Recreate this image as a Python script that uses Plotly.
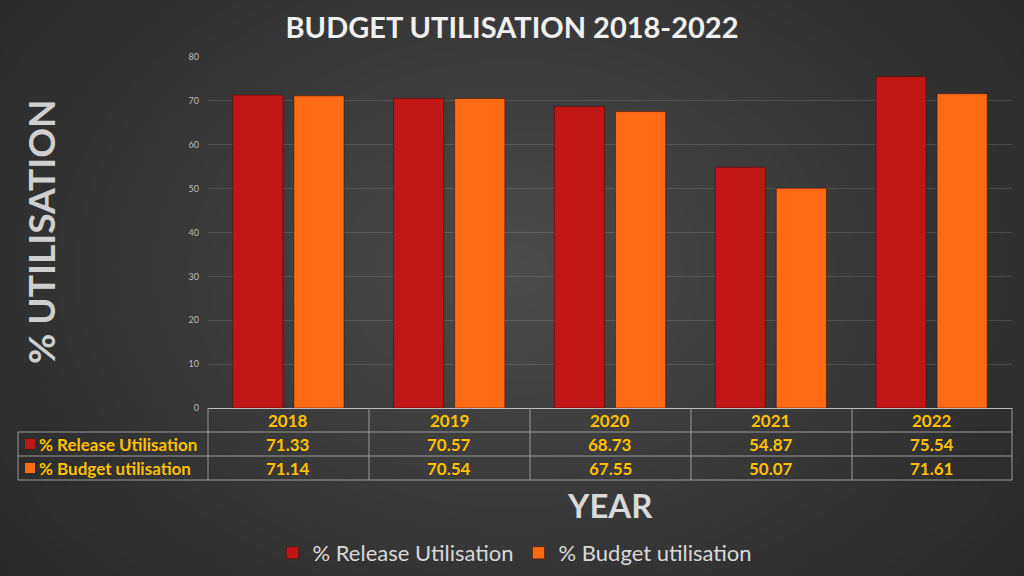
import plotly.graph_objects as go

# data
years = ["2018", "2019", "2020", "2021", "2022"]
release_util = [71.33, 70.57, 68.73, 54.87, 75.54]
budget_util = [71.14, 70.54, 67.55, 50.07, 71.61]
series_names = ["% Release Utilisation", "% Budget utilisation"]
series_colors = ["#c01616", "#ff6a14"]

FONT = "Lato"
GOLD = "#ffc000"
LINE = "#9a9a9a"

# plot area in px: x 208..1012, y 57..408 (figure 1024x576)
L, R, T, B = 208, 12, 57, 168
PW, PH = 1024 - L - R, 576 - T - B


def px_x(px):
    return (px - L) / PW


def px_y(py):
    return (576 - B - py) / PH


fig = go.Figure()
for name, vals, col in zip(series_names, [release_util, budget_util], series_colors):
    fig.add_trace(go.Bar(
        x=years, y=vals, name=name,
        marker=dict(color=col, line=dict(color="rgba(60,0,0,0.45)", width=1)),
    ))

shapes = []

# background radial-ish glow
steps = 40
for i in range(steps):
    f = 1 - i / steps
    cx, cy = 512, 270
    rx, ry = 760 * f, 560 * f
    shapes.append(dict(
        type="circle", xref="paper", yref="paper", layer="below",
        x0=px_x(cx - rx), x1=px_x(cx + rx), y0=px_y(cy + ry), y1=px_y(cy - ry),
        fillcolor="rgba(255,255,255,0.0095)", line=dict(width=0),
    ))

# data table lines
row_y = [408, 432, 456, 480]
col_x = [208, 369, 530, 691, 852, 1012]
for py in row_y[1:]:
    shapes.append(dict(type="line", xref="paper", yref="paper",
                       x0=px_x(18), x1=px_x(1012), y0=px_y(py), y1=px_y(py),
                       line=dict(color=LINE, width=1)))
shapes.append(dict(type="line", xref="paper", yref="paper",
                   x0=px_x(18), x1=px_x(18), y0=px_y(432), y1=px_y(480),
                   line=dict(color=LINE, width=1)))
for cx in col_x:
    shapes.append(dict(type="line", xref="paper", yref="paper",
                       x0=px_x(cx), x1=px_x(cx), y0=px_y(408), y1=px_y(480),
                       line=dict(color=LINE, width=1)))

# legend keys in table
for i, col in enumerate(series_colors):
    yc = 444 + 24 * i
    shapes.append(dict(type="rect", xref="paper", yref="paper",
                       x0=px_x(25), x1=px_x(35), y0=px_y(yc + 5), y1=px_y(yc - 5),
                       fillcolor=col, line=dict(width=0)))

annotations = []
cell_font = dict(family=FONT, size=17, color=GOLD, weight="bold")


def cell(x, xref, py, text, xanchor="center"):
    return dict(x=x, xref=xref, y=px_y(py), yref="paper", text=text,
                xanchor=xanchor, yanchor="middle", showarrow=False, font=cell_font)


# category index keeps annotations on the category axis
for i, (yr, rv, bv) in enumerate(zip(years, release_util, budget_util)):
    annotations.append(cell(i, "x", 420, yr))
    annotations.append(cell(i, "x", 444, f"{rv:.2f}"))
    annotations.append(cell(i, "x", 468, f"{bv:.2f}"))
for i, name in enumerate(series_names):
    annotations.append(cell(px_x(37), "paper", 444 + 24 * i, name, xanchor="left"))

annotations.append(dict(x=px_x(610), xref="paper", y=px_y(505), yref="paper", text="YEAR",
                        xanchor="center", yanchor="middle", showarrow=False,
                        font=dict(family=FONT, size=33, color="#d9d9d9", weight="bold")))
annotations.append(dict(x=px_x(40), xref="paper", y=px_y(232), yref="paper",
                        text="% UTILISATION", textangle=-90, showarrow=False,
                        xanchor="center", yanchor="middle",
                        font=dict(family=FONT, size=37, color="#cfcfcf", weight="bold")))

fig.update_layout(
    width=1024, height=576,
    margin=dict(l=L, r=R, t=T, b=B, autoexpand=False),
    paper_bgcolor="#222222",
    plot_bgcolor="rgba(0,0,0,0)",
    barmode="group", bargap=0.24, bargroupgap=0.18,
    title=dict(text="BUDGET UTILISATION 2018-2022", x=0.5, xanchor="center",
               y=1 - 28 / 576, yanchor="middle",
               font=dict(family=FONT, size=29, color="#f0f0f0", weight="bold")),
    xaxis=dict(type="category", range=[-0.5, len(years) - 0.5], showticklabels=False,
               showgrid=False, zeroline=False,
               showline=True, linecolor="#bdbdbd", linewidth=1),
    yaxis=dict(range=[0, 80], dtick=10, showgrid=True,
               gridcolor="rgba(255,255,255,0.13)", zeroline=False,
               tickfont=dict(family=FONT, size=9, color="#bdbdbd"), ticklabelstandoff=8),
    legend=dict(orientation="h", x=px_x(515), xanchor="center", y=px_y(553),
                yanchor="middle", font=dict(family=FONT, size=22, color="#d9d9d9"),
                itemwidth=30, bgcolor="rgba(0,0,0,0)"),
    shapes=shapes,
    annotations=annotations,
)

fig.write_html("out.html", config={"displayModeBar": False},
               post_script="document.body.style.margin = '0';")
